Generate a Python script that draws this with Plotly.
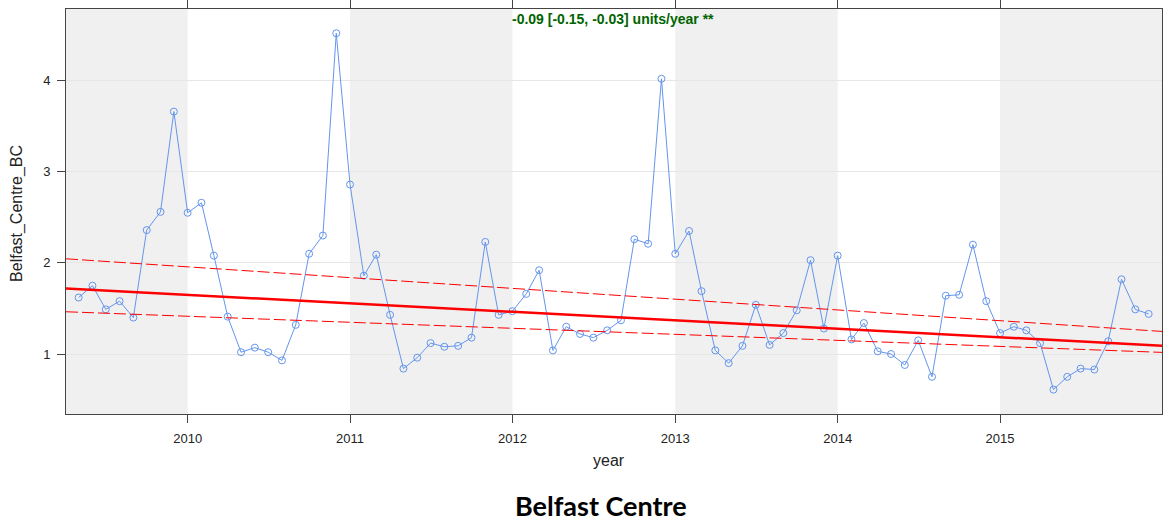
import pandas as pd
import plotly.graph_objects as go

# Monthly mean black carbon, Belfast Centre (May 2009 - Dec 2015)
start_month = "2009-05-01"
bc_values = [
    1.62, 1.75, 1.49, 1.58, 1.40, 2.36, 2.56, 3.66,                     # 2009
    2.55, 2.66, 2.08, 1.41, 1.02, 1.07, 1.02, 0.93, 1.32, 2.10, 2.30, 4.52,  # 2010
    2.86, 1.86, 2.09, 1.43, 0.84, 0.96, 1.12, 1.08, 1.09, 1.18, 2.23, 1.43,  # 2011
    1.47, 1.66, 1.92, 1.04, 1.30, 1.22, 1.18, 1.26, 1.37, 2.26, 2.21, 4.02,  # 2012
    2.10, 2.35, 1.69, 1.04, 0.90, 1.09, 1.54, 1.10, 1.23, 1.48, 2.03, 1.28,  # 2013
    2.08, 1.16, 1.34, 1.03, 1.00, 0.88, 1.15, 0.75, 1.64, 1.65, 2.20, 1.58,  # 2014
    1.23, 1.30, 1.26, 1.12, 0.61, 0.75, 0.84, 0.83, 1.14, 1.82, 1.49, 1.44,  # 2015
]
dates = pd.date_range(start_month, periods=len(bc_values), freq="MS")

# Theil-Sen trend and its confidence bounds, evaluated at both ends of the axis
x_range = ["2009-04-02 14:00", "2015-12-31"]
trend_mid = [1.719, 1.091]
trend_upper = [2.045, 1.248]
trend_lower = [1.464, 1.018]
trend_label = "-0.09 [-0.15, -0.03] units/year **"

year_ticks = [2010, 2011, 2012, 2013, 2014, 2015]
shaded_years = [2009, 2011, 2013, 2015]
y_ticks = [1, 2, 3, 4]
y_range = [0.342, 4.786]

fig = go.Figure()

# alternating year shading
for yr in shaded_years:
    x0 = max(pd.Timestamp(f"{yr}-01-01"), pd.Timestamp(x_range[0]))
    x1 = min(pd.Timestamp(f"{yr + 1}-01-01"), pd.Timestamp(x_range[1]))
    fig.add_shape(type="rect", xref="x", yref="paper", x0=x0, x1=x1, y0=0, y1=1,
                  fillcolor="#f0f0f0", line_width=0, layer="below")

fig.add_trace(go.Scatter(
    x=dates, y=bc_values, mode="lines+markers",
    line=dict(color="cornflowerblue", width=1),
    marker=dict(symbol="circle-open", size=7, color="cornflowerblue",
                line=dict(width=1, color="cornflowerblue")),
    showlegend=False, hoverinfo="x+y",
))

for vals, width, dash in [(trend_upper, 1, "12px,4px"),
                          (trend_lower, 1, "12px,4px"),
                          (trend_mid, 2.5, "solid")]:
    fig.add_trace(go.Scatter(
        x=x_range, y=vals, mode="lines",
        line=dict(color="red", width=width, dash=dash),
        showlegend=False, hoverinfo="skip",
    ))

axis_font = dict(family="Liberation Sans, Arial, sans-serif", size=13, color="#222")

fig.update_layout(
    width=1163, height=523,
    margin=dict(l=66, r=1, t=9, b=109),
    paper_bgcolor="white", plot_bgcolor="white",
    font=axis_font,
    xaxis=dict(
        type="date", range=x_range,
        tickvals=[pd.Timestamp(f"{y}-01-01") for y in year_ticks],
        ticktext=[str(y) for y in year_ticks],
        ticks="outside", ticklen=8, tickcolor="#444",
        showline=True, linecolor="#444", linewidth=1, mirror="ticks",
        showgrid=False, zeroline=False, ticklabelstandoff=4,
    ),
    yaxis=dict(
        range=y_range, tickvals=y_ticks,
        ticks="outside", ticklen=8, tickcolor="#444",
        showline=True, linecolor="#444", linewidth=1, mirror=True,
        showgrid=True, gridcolor="#e6e6e6", gridwidth=1, zeroline=False,
        ticklabelstandoff=4,
    ),
)

fig.add_annotation(text=trend_label, xref="paper", yref="paper", x=0.4995, y=0.975,
                   showarrow=False, xanchor="center", yanchor="middle",
                   font=dict(family="Liberation Sans, Arial, sans-serif", size=14,
                             color="#006400", weight="bold"))
fig.add_annotation(text="year", xref="paper", yref="paper", x=0.4954, y=-0.116,
                   showarrow=False, xanchor="center", yanchor="middle",
                   font=dict(family="Liberation Sans, Arial, sans-serif", size=16, color="#222"))
fig.add_annotation(text="Belfast_Centre_BC", xref="paper", yref="paper", x=-0.0447, y=0.494,
                   textangle=-90, showarrow=False, xanchor="center", yanchor="middle",
                   font=dict(family="Liberation Sans, Arial, sans-serif", size=16, color="#222"))
fig.add_annotation(text="<b>Belfast Centre</b>", xref="paper", yref="paper", x=0.488, y=-0.2247,
                   showarrow=False, xanchor="center", yanchor="middle",
                   font=dict(family="Lato, sans-serif", size=27, color="black"))

fig.write_html("out.html")
